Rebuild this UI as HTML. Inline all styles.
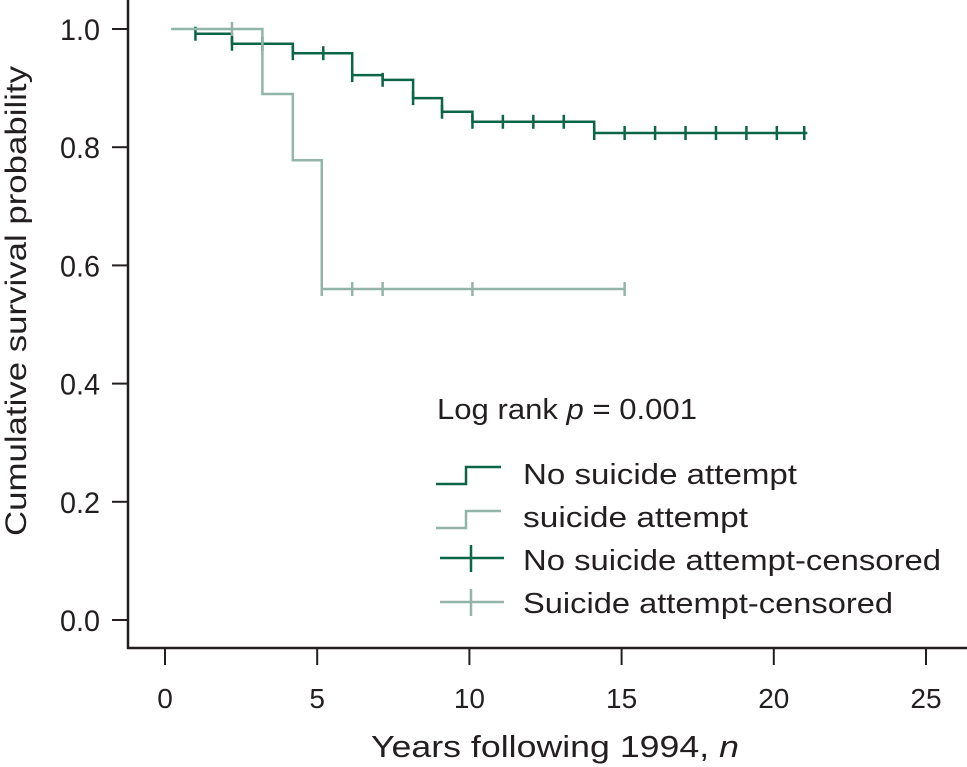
<!DOCTYPE html>
<html><head><meta charset="utf-8"><style>
html,body{margin:0;padding:0;background:#fff}
svg{display:block}
text{font-family:"Liberation Sans",sans-serif;fill:#231f20}
</style></head><body>
<svg id="chart" width="967" height="767" viewBox="0 0 967 767" xmlns="http://www.w3.org/2000/svg">
<g id="axes"></g>
<g id="series"></g>
<g id="legend">
  <text x="437" y="419" font-size="29" textLength="260" lengthAdjust="spacingAndGlyphs">Log rank <tspan font-style="italic">p</tspan> = 0.001</text>
  <polyline points="436,484 466,484 466,467 501,467" fill="none" stroke="#0b6647" stroke-width="2.5"/>
  <text x="523" y="484" font-size="29" textLength="274" lengthAdjust="spacingAndGlyphs">No suicide attempt</text>
  <polyline points="436,528 466,528 466,511 501,511" fill="none" stroke="#93b5a8" stroke-width="2.5"/>
  <text x="523" y="527" font-size="29" textLength="225" lengthAdjust="spacingAndGlyphs">suicide attempt</text>
  <line x1="440" y1="558" x2="504" y2="558" stroke="#0b6647" stroke-width="2.5"/>
  <line x1="471" y1="545" x2="471" y2="572" stroke="#0b6647" stroke-width="2.5"/>
  <text x="523" y="570" font-size="29" textLength="418" lengthAdjust="spacingAndGlyphs">No suicide attempt-censored</text>
  <line x1="440" y1="602" x2="504" y2="602" stroke="#93b5a8" stroke-width="2.5"/>
  <line x1="471" y1="589" x2="471" y2="616" stroke="#93b5a8" stroke-width="2.5"/>
  <text x="523" y="613" font-size="29" textLength="370" lengthAdjust="spacingAndGlyphs">Suicide attempt-censored</text>
</g>
</svg>
<script>
const xTicks = [0, 5, 10, 15, 20, 25];
const yTicks = [0.0, 0.2, 0.4, 0.6, 0.8, 1.0];
const yTickLabels = ["0.0", "0.2", "0.4", "0.6", "0.8", "1.0"];
const noAttemptTimes = [1, 2.2, 4.2, 6.15, 7.15, 8.15, 9.1, 10.1, 14.1, 21.1];
const noAttemptSurv = [0.992, 0.975, 0.959, 0.922, 0.914, 0.883, 0.86, 0.843, 0.824, 0.824];
const noAttemptCensor = [1,2.2,3.2,4.2,5.2,6.15,7.15,8.15,9.1,10.1,11.1,12.1,13.1,14.1,15.1,16.1,17.1,18.1,19.1,20.1,21];
const attemptTimes = [0.2, 3.2, 4.2, 5.15, 15.1];
const attemptSurv = [1.0, 0.89, 0.778, 0.56, 0.56];
const attemptCensor = [2.2, 5.15, 6.15, 7.15, 10.1, 15.1];

const NS = "http://www.w3.org/2000/svg";
const X = t => 165 + t * 30.44;
const Y = p => 620 - p * 591;
function mk(tag, attrs, parent){ const e=document.createElementNS(NS,tag); for(const k in attrs) e.setAttribute(k,attrs[k]); parent.appendChild(e); return e; }
const axes=document.getElementById('axes'), series=document.getElementById('series');

let a=mk('line',{x1:128,y1:0,x2:128,y2:649,stroke:'#231f20','stroke-width':2.5},axes);


a=mk('line',{x1:127,y1:648,x2:967,y2:648,stroke:'#231f20','stroke-width':2.5},axes);


xTicks.forEach(t=>{
  const l=mk('line',{x1:X(t),y1:648,x2:X(t),y2:665,stroke:'#231f20','stroke-width':2},axes);
  
  
  const tx=mk('text',{x:X(t),y:708,'font-size':28,'text-anchor':'middle'},axes);
  
  
  tx.textContent=String(t);
});
yTicks.forEach((p,i)=>{
  const l=mk('line',{x1:112,y1:Y(p),x2:128,y2:Y(p),stroke:'#231f20','stroke-width':2},axes);
  
  
  const tx=mk('text',{x:100,y:Y(p)+11,'font-size':30,'text-anchor':'end',textLength:40,lengthAdjust:'spacingAndGlyphs'},axes);
  
  
  tx.textContent=yTickLabels[i];
});
let t=mk('text',{x:555,y:757,'font-size':31,'text-anchor':'middle',textLength:368,lengthAdjust:'spacingAndGlyphs'},axes);


t.innerHTML='Years following 1994, <tspan font-style="italic">n</tspan>';
t=mk('text',{x:0,y:0,'font-size':30,'text-anchor':'middle',textLength:470,lengthAdjust:'spacingAndGlyphs',transform:'translate(26,301) rotate(-90)'},axes);


t.textContent='Cumulative survival probability';

function survAt(times,surv,x){ let s=surv[0]; for(let i=0;i<times.length;i++){ if(times[i]<=x+0.001) s=surv[i]; } return s; }
function drawSeries(times,surv,censor,color,name){
  let pts=[];
  for(let i=0;i<times.length;i++){
    if(i>0) pts.push(X(times[i])+','+Y(surv[i-1]));
    pts.push(X(times[i])+','+Y(surv[i]));
  }
  const pl=mk('polyline',{points:pts.join(' '),fill:'none',stroke:color,'stroke-width':2.5},series);
  
  
  censor.forEach(c=>{
    const y=Y(survAt(times,surv,c));
    const l=mk('line',{x1:X(c),y1:y-7,x2:X(c),y2:y+7,stroke:color,'stroke-width':2.5},series);
    
    
  });
}
drawSeries(noAttemptTimes,noAttemptSurv,noAttemptCensor,'#0b6647','no-suicide-attempt');
drawSeries(attemptTimes,attemptSurv,attemptCensor,'#93b5a8','suicide-attempt');
</script>
</body></html>
